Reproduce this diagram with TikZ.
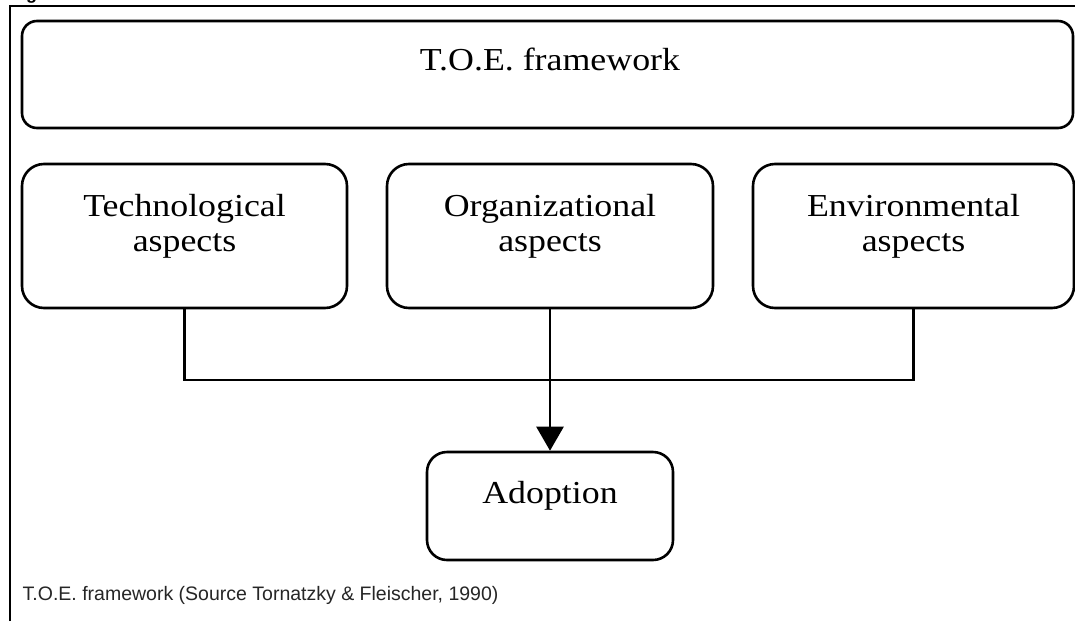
\documentclass[tikz,border=0pt]{standalone}
\usepackage{fontspec}
\usepackage{graphicx}
\setmainfont{Liberation Serif}
\newfontfamily\capfont{Liberation Sans}
\usetikzlibrary{arrows.meta}

% box labels: Times-like serif, slightly widened
\newcommand{\boxtext}[1]{\scalebox{1.12}[1]{\fontsize{32}{35}\selectfont
  \setlength{\tabcolsep}{0pt}\renewcommand{\arraystretch}{1}%
  \begin{tabular}[t]{c}#1\end{tabular}}}

\begin{document}
\begin{tikzpicture}[x=1pt,y=-1pt,
  panel/.style={draw=black,line width=2.6pt,rounded corners=22pt,
    rectangle,inner sep=0pt,fill=white},
  label/.style={anchor=base,inner sep=0pt,text=black},
  link/.style={draw=black,line width=2.6pt},
  frameline/.style={draw=black,line width=2pt}]

  \useasboundingbox (0,0) rectangle (1075,621);
  \clip (0,0) rectangle (1075,621);
  \fill[white] (0,0) rectangle (1075,621);

  % heading above the frame (only its descender shows)
  \node[anchor=base west,inner sep=0pt,font=\capfont\bfseries\fontsize{18}{20}\selectfont]
    (heading) at (10,-1) {Figure};

  % outer frame
  \coordinate (fbl) at (9.5,621);
  \coordinate (ftl) at (9.5,5.5);
  \coordinate (ftr) at (1075,5.5);
  \draw[frameline] (fbl) -- (ftl) -- (ftr);

  % framework header
  \node[panel,rounded corners=15pt,minimum width=1051pt,minimum height=107pt]
    (toe) at (547.5,74.5) {};
  \node[label] (toetxt) at (550,70) {\boxtext{T.O.E. framework}};

  % the three contexts
  \node[panel,minimum width=325pt,minimum height=144pt] (tech) at (184.5,236) {};
  \node[panel,minimum width=326pt,minimum height=144pt] (org)  at (550,236) {};
  \node[panel,minimum width=321pt,minimum height=144pt] (env)  at (913.5,236) {};

  \node[label] (techtxt) at (184.5,216) {\boxtext{Technological\\aspects}};
  \node[label] (orgtxt)  at (550,216)   {\boxtext{Organizational\\aspects}};
  \node[label] (envtxt)  at (913.5,216) {\boxtext{Environmental\\aspects}};

  % outcome
  \node[panel,rounded corners=20pt,minimum width=246pt,minimum height=108pt]
    (adopt) at (550,506) {};
  \node[label] (adopttxt) at (550,503) {\boxtext{Adoption}};

  % connectors
  \coordinate (hub) at (550,380);
  \draw[link] (tech.south) |- (hub) -| (env.south);
  \draw[link,-{Triangle[width=27pt,length=24pt]}] (org.south) -- (adopt.north);

  % caption
  \node[anchor=base west,inner sep=0pt,text=black!85,
    font=\capfont\fontsize{19.5}{22}\selectfont]
    (caption) at (22.5,600) {T.O.E. framework (Source Tornatzky \& Fleischer, 1990)};
\end{tikzpicture}
\end{document}
